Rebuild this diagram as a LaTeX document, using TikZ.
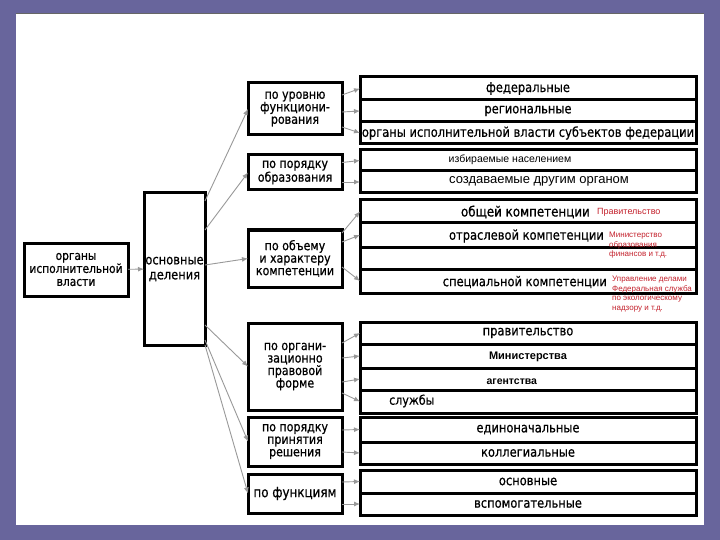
\documentclass[tikz,border=0pt]{standalone}
\usepackage{fontspec}
\setmainfont{DejaVu Sans}[FakeStretch=0.85,FakeBold=0.6]
\newfontfamily\plainfont{Liberation Sans}
\usetikzlibrary{arrows.meta,calc}
\definecolor{frame}{RGB}{104,101,156}
\definecolor{notered}{RGB}{196,34,45}

\begin{document}
\begin{tikzpicture}[x=1pt,y=-1pt,
  box/.style={draw, line width=3pt, outer sep=0pt, inner sep=1pt, align=center, font=\fontsize{13}{12.5}\selectfont},
  cat/.style={box, anchor=north west, minimum width=94pt},
  row/.style={draw, line width=3pt, outer sep=0pt, inner sep=0pt, anchor=north west, minimum width=336pt, font=\fontsize{13.5}{14}\selectfont},
  scan/.style={inner sep=0pt, font=\fontsize{13.5}{14}\selectfont},
  note/.style={text=notered, inner sep=0pt, anchor=north west, align=left, font=\plainfont\fontsize{8}{9.5}\selectfont},
  arr/.style={draw=black!40, line width=0.9pt, -{Latex[length=6pt,width=5pt]}}]
    \fill[frame] (0,0) rectangle (720,540);
    \fill[white] (16,14) rectangle (704,525);
    \draw[black!60, line width=1pt] (16,13.5) -- (704,13.5);
    \useasboundingbox (0,0) rectangle (720,540);

    \node[box, anchor=north west, minimum width=104pt, minimum height=53pt, font=\fontsize{12.5}{13}\selectfont] (organy) at (24,243) {органы\\исполнительной\\власти};
    \node[box, anchor=north west, minimum width=61pt, minimum height=152pt, font=\fontsize{13.5}{15}\selectfont] (osn) at (144,193) {основные\\деления};

    \node[cat, minimum height=52pt] (urov) at (248,83) {по уровню\\функциони-\\рования};
    \node[cat, minimum height=35pt] (obraz) at (248,155) {по порядку\\образования};
    \node[cat, minimum height=57pt] (komp) at (248,230) {по объему\\и характеру\\компетенции};
    \node[cat, minimum height=87pt] (forma) at (248,323) {по органи-\\зационно\\правовой\\форме};
    \node[cat, minimum height=49pt] (resh) at (248,417) {по порядку\\принятия\\решения};
    \node[cat, minimum height=39pt, font=\fontsize{14}{14}\selectfont] (funk) at (248,474) {по функциям};

    \node[row, minimum height=23pt] (fed) at (360,77) {федеральные};
    \node[row, minimum height=22pt] (reg) at (360,100) {региональные};
    \node[row, minimum height=22pt] (subj) at (360,122) {органы исполнительной власти субъектов федерации};

    \node[row, minimum height=21pt] (izb) at (360,150) {};
    \node[row, minimum height=22pt] (sozd) at (360,171) {};
    \node[font=\plainfont\fontsize{10.5}{12}\selectfont] (izbt) at (510,160) {избираемые населением};
    \node[font=\plainfont\fontsize{13}{14}\selectfont] (sozdt) at (539,181) {создаваемые другим органом};

    \node[row, minimum height=23pt] (obsh) at (360,200) {};
    \node[row, minimum height=24pt] (otr) at (360,223) {};
    \node[row, minimum height=22pt] (pust) at (360,247) {};
    \node[row, minimum height=24pt] (spec) at (360,269) {};
    \node[scan, anchor=east, font=\fontsize{14}{14}\selectfont] (obsht) at (590,212) {общей компетенции};
    \node[scan, anchor=east] (otrt) at (604,236) {отраслевой компетенции};
    \node[scan, anchor=east] (spect) at (607,282) {специальной компетенции};
    \node[note, font=\plainfont\fontsize{9}{10}\selectfont, anchor=west] (n1) at (597,212) {Правительство};
    \node[note] (n2) at (609,232) {Министерство\\образования\\финансов и т.д.};
    \node[note] (n3) at (612,276) {Управление делами\\Федеральная служба\\по экологическому\\надзору и т.д.};

    \node[row, minimum height=22pt] (prav) at (360,322) {правительство};
    \node[row, minimum height=24pt] (min) at (360,344) {};
    \node[row, minimum height=22pt] (agen) at (360,368) {};
    \node[row, minimum height=23pt] (sluz) at (360,390) {};
    \node[font=\plainfont\bfseries\fontsize{11}{12}\selectfont] (mint) at (528,357) {Министерства};
    \node[font=\plainfont\bfseries\fontsize{10.5}{12}\selectfont, anchor=west] (agent) at (483,382) {агентства};
    \node[scan, anchor=west, font=\fontsize{13}{13}\selectfont] (sluzt) at (389,401) {службы};

    \node[row, minimum height=25pt] (edin) at (360,417) {единоначальные};
    \node[row, minimum height=22pt] (koll) at (360,442) {коллегиальные};

    \node[row, minimum height=23pt] (osnv) at (360,470) {основные};
    \node[row, minimum height=22pt] (vspom) at (360,493) {вспомогательные};

    \draw[arr] (organy) -- (osn);
    \draw[arr] ($(osn.north east)+(0,8)$) -- (urov.west);
    \draw[arr] ($(osn.north east)+(0,37)$) -- (obraz.west);
    \draw[arr] ($(osn.east)+(0,-4)$) -- (komp.west);
    \draw[arr] ($(osn.south east)+(0,-20)$) -- (forma.west);
    \draw[arr] ($(osn.south east)+(0,-5)$) -- (resh.west);
    \draw[arr] (osn.south east) -- (funk.west);

    \draw[arr] ($(urov.east)+(0,-14)$) -- (fed.west);
    \draw[arr] ($(urov.east)+(0,3)$) -- (reg.west);
    \draw[arr] ($(urov.east)+(0,18)$) -- (subj.west);
    \draw[arr] ($(obraz.east)+(0,-10)$) -- (izb.west);
    \draw[arr] ($(obraz.east)+(0,9.5)$) -- (sozd.west);
    \draw[arr] ($(komp.east)+(0,-25.5)$) -- (obsh.west);
    \draw[arr] ($(komp.east)+(0,-16.5)$) -- (otr.west);
    \draw[arr] ($(komp.east)+(0,8.5)$) -- (spec.west);
    \draw[arr] ($(forma.east)+(0,-23.5)$) -- (prav.west);
    \draw[arr] ($(forma.east)+(0,-8.5)$) -- (min.west);
    \draw[arr] ($(forma.east)+(0,15.5)$) -- (agen.west);
    \draw[arr] ($(forma.east)+(0,26.5)$) -- (sluz.west);
    \draw[arr] ($(resh.east)+(0,-11.5)$) -- (edin.west);
    \draw[arr] ($(resh.east)+(0,10.5)$) -- (koll.west);
    \draw[arr] ($(funk.east)+(0,-11.5)$) -- (osnv.west);
    \draw[arr] ($(funk.east)+(0,10.5)$) -- (vspom.west);
\end{tikzpicture}
\end{document}
